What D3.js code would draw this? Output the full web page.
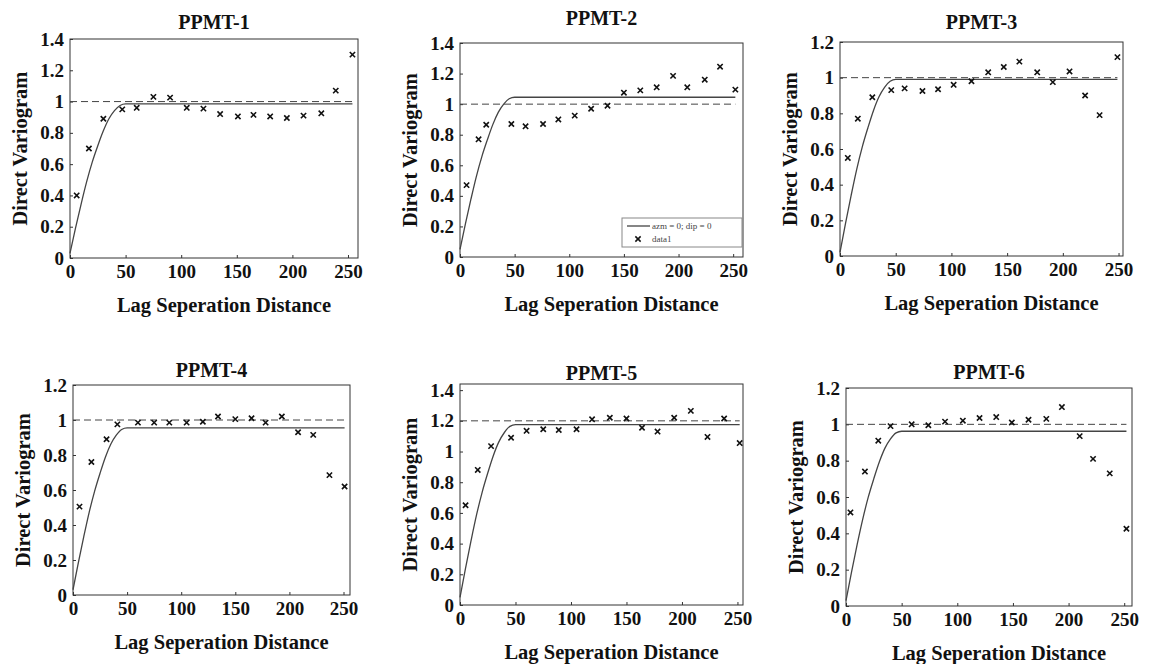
<!DOCTYPE html>
<html>
<head>
<meta charset="utf-8">
<script src="https://cdn.jsdelivr.net/npm/d3@7"></script>
<style>
    body { margin: 0; background: #fff; }
    svg { display: block; }
</style>
</head>
<body>
<div id="chart"></div>
<script>
// panel titles
const titles = ['PPMT-1', 'PPMT-2', 'PPMT-3', 'PPMT-4', 'PPMT-5', 'PPMT-6'];

const lags1 = [6, 17, 30, 47, 60, 75, 90, 105, 120, 135, 151, 165, 180, 195, 210, 226, 239, 254];
const vals1 = [0.40, 0.70, 0.89, 0.95, 0.96, 1.03, 1.025, 0.96, 0.955, 0.92, 0.905, 0.915, 0.905, 0.895, 0.91, 0.925, 1.07, 1.30];
const lags2 = [6, 17, 24, 47, 60, 76, 90, 105, 120, 135, 150, 165, 180, 195, 208, 224, 238, 252];
const vals2 = [0.47, 0.77, 0.865, 0.87, 0.855, 0.87, 0.90, 0.925, 0.97, 0.99, 1.075, 1.09, 1.11, 1.185, 1.11, 1.16, 1.245, 1.095];
const lags3 = [7, 16, 29, 46, 58, 74, 88, 102, 118, 133, 147, 161, 177, 191, 206, 220, 233, 249];
const vals3 = [0.55, 0.77, 0.89, 0.93, 0.94, 0.925, 0.935, 0.96, 0.98, 1.03, 1.06, 1.09, 1.03, 0.975, 1.035, 0.90, 0.79, 1.115];
const lags4 = [6, 17, 31, 41, 60, 75, 89, 105, 120, 134, 150, 165, 178, 193, 208, 222, 237, 251];
const vals4 = [0.505, 0.76, 0.89, 0.975, 0.985, 0.985, 0.985, 0.985, 0.99, 1.02, 1.005, 1.01, 0.985, 1.02, 0.93, 0.915, 0.685, 0.62];
const lags5 = [5, 16, 28, 46, 60, 75, 89, 105, 119, 135, 150, 164, 178, 193, 208, 223, 238, 252];
const vals5 = [0.65, 0.88, 1.035, 1.09, 1.135, 1.145, 1.14, 1.145, 1.21, 1.22, 1.215, 1.155, 1.13, 1.22, 1.265, 1.095, 1.215, 1.055];
const lags6 = [4, 17, 29, 40, 59, 74, 89, 105, 120, 135, 149, 164, 180, 194, 210, 222, 237, 252];
const vals6 = [0.515, 0.74, 0.91, 0.99, 1.0, 0.995, 1.015, 1.02, 1.035, 1.04, 1.01, 1.025, 1.03, 1.095, 0.935, 0.81, 0.73, 0.425];

// fitted model curves
const modelLags = [0, 5, 10, 15, 20, 25, 30, 35, 40, 45, 50];
const model1 = [0.03, 0.192, 0.345, 0.488, 0.613, 0.718, 0.813, 0.89, 0.942, 0.975, 0.985];
const model2 = [0.05, 0.219, 0.378, 0.528, 0.657, 0.766, 0.866, 0.946, 1.0, 1.035, 1.045];
const model3 = [0.02, 0.185, 0.34, 0.486, 0.612, 0.718, 0.815, 0.893, 0.946, 0.98, 0.99];
const model4 = [0.03, 0.187, 0.335, 0.474, 0.594, 0.696, 0.789, 0.863, 0.913, 0.946, 0.955];
const model5 = [0.05, 0.241, 0.421, 0.59, 0.736, 0.86, 0.973, 1.063, 1.124, 1.164, 1.175];
const model6 = [0.03, 0.188, 0.338, 0.477, 0.599, 0.701, 0.794, 0.869, 0.92, 0.953, 0.962];
const lineEnds = [254, 252, 249, 251, 252, 252];

// dashed sill line
const sills = [1, 1, 1, 1, 1.2, 1];

// axis extents and ticks
const xMaxes = [259, 259, 254, 256, 255, 257];
const yMaxes = [1.4, 1.4, 1.2, 1.2, 1.44, 1.2];
const xTicks = [0, 50, 100, 150, 200, 250];
const yTicks14 = [0, 0.2, 0.4, 0.6, 0.8, 1, 1.2, 1.4];
const yTicks12 = [0, 0.2, 0.4, 0.6, 0.8, 1, 1.2];
const yTickSets = [yTicks14, yTicks14, yTicks12, yTicks12, yTicks14, yTicks12];

const allLags = [lags1, lags2, lags3, lags4, lags5, lags6];
const allVals = [vals1, vals2, vals3, vals4, vals5, vals6];
const allModels = [model1, model2, model3, model4, model5, model6];

// plot boxes on the page
const boxes = [
    { x: 70,  y: 39,  w: 288, h: 219, ty: 22 },
    { x: 460, y: 43,  w: 283, h: 214, ty: 18 },
    { x: 840, y: 42,  w: 283, h: 214, ty: 22 },
    { x: 73,  y: 385, w: 277, h: 210, ty: 370 },
    { x: 460, y: 384, w: 283, h: 221, ty: 373 },
    { x: 846, y: 388, w: 286, h: 218, ty: 372 }
];

const font = '"Liberation Serif", "Times New Roman", serif';
const width = 1152;
const height = 664;

const svg = d3.select('#chart')
    .append('svg')
    .attr('width', width)
    .attr('height', height)
    .style('font-family', font);

const marker = d3.symbol(d3.symbolTimes, 20);

boxes.forEach((b, i) => {
    const x = d3.scaleLinear().domain([0, xMaxes[i]]).range([0, b.w]);
    const y = d3.scaleLinear().domain([0, yMaxes[i]]).range([b.h, 0]);

    const g = svg.append('g').attr('transform', `translate(${b.x},${b.y})`);

    // axes with inward ticks
    const xa = g.append('g')
        .attr('transform', `translate(0,${b.h})`)
        .call(d3.axisBottom(x).tickValues(xTicks).tickSize(-3).tickPadding(7).tickFormat(d3.format('d')));
    const ya = g.append('g')
        .call(d3.axisLeft(y).tickValues(yTickSets[i]).tickSize(-3).tickPadding(6).tickFormat(d => String(d)));
    [xa, ya].forEach(a => {
        a.select('.domain').remove();
        a.attr('font-family', font).attr('font-size', 19).attr('font-weight', 'bold');
        a.selectAll('line').attr('stroke', '#333');
        a.selectAll('text').attr('fill', '#111');
    });

    // frame
    g.append('rect')
        .attr('width', b.w)
        .attr('height', b.h)
        .attr('fill', 'none')
        .attr('stroke', '#333')
        .attr('stroke-width', 1);

    // dashed sill
    g.append('line')
        .attr('x1', x(0))
        .attr('x2', x(lineEnds[i]))
        .attr('y1', y(sills[i]))
        .attr('y2', y(sills[i]))
        .attr('stroke', '#444')
        .attr('stroke-width', 1)
        .attr('stroke-dasharray', '7,4');

    // model curve
    const model = allModels[i];
    const pts = modelLags.map((l, j) => [l, model[j]]);
    pts.push([lineEnds[i], model[model.length - 1]]);
    const line = d3.line()
        .x(d => x(d[0]))
        .y(d => y(d[1]))
        .curve(d3.curveMonotoneX);
    g.append('path')
        .attr('d', line(pts))
        .attr('fill', 'none')
        .attr('stroke', '#444')
        .attr('stroke-width', 1.3);

    // experimental points
    g.selectAll('.pt')
        .data(allLags[i].map((l, j) => [l, allVals[i][j]]))
        .enter()
        .append('path')
        .attr('class', 'pt')
        .attr('d', marker)
        .attr('transform', d => `translate(${x(d[0])},${y(d[1])})`)
        .attr('fill', 'none')
        .attr('stroke', '#111')
        .attr('stroke-width', 1.6);

    // title
    svg.append('text')
        .attr('x', b.x + b.w / 2)
        .attr('y', b.ty)
        .attr('text-anchor', 'middle')
        .attr('dominant-baseline', 'central')
        .attr('font-size', 20)
        .attr('font-weight', 'bold')
        .attr('fill', '#111')
        .text(titles[i]);

    // axis titles
    svg.append('text')
        .attr('x', b.x + b.w / 2 + 10)
        .attr('y', b.y + b.h + 47)
        .attr('text-anchor', 'middle')
        .attr('dominant-baseline', 'central')
        .attr('font-size', 20.5)
        .attr('font-weight', 'bold')
        .attr('fill', '#111')
        .text('Lag Seperation Distance');

    svg.append('text')
        .attr('transform', `translate(${b.x - 50},${b.y + b.h / 2}) rotate(-90)`)
        .attr('text-anchor', 'middle')
        .attr('dominant-baseline', 'central')
        .attr('font-size', 20.5)
        .attr('font-weight', 'bold')
        .attr('fill', '#111')
        .text('Direct Variogram');

    // legend only on the second panel
    if (i === 1) {
        const lg = g.append('g').attr('transform', `translate(${b.w - 121},${b.h - 39})`);
        lg.append('rect')
            .attr('width', 120)
            .attr('height', 29)
            .attr('fill', '#fff')
            .attr('stroke', '#888');
        lg.append('line')
            .attr('x1', 5).attr('x2', 28)
            .attr('y1', 8).attr('y2', 8)
            .attr('stroke', '#444')
            .attr('stroke-width', 1.3);
        lg.append('text')
            .attr('x', 30).attr('y', 8)
            .attr('dominant-baseline', 'central')
            .attr('font-size', 9)
            .attr('fill', '#444')
            .text('azm = 0; dip = 0');
        lg.append('path')
            .attr('d', marker)
            .attr('transform', 'translate(16,21)')
            .attr('fill', 'none')
            .attr('stroke', '#111')
            .attr('stroke-width', 1.5);
        lg.append('text')
            .attr('x', 30).attr('y', 21)
            .attr('dominant-baseline', 'central')
            .attr('font-size', 9)
            .attr('fill', '#444')
            .text('data1');
    }
});
</script>
</body>
</html>
